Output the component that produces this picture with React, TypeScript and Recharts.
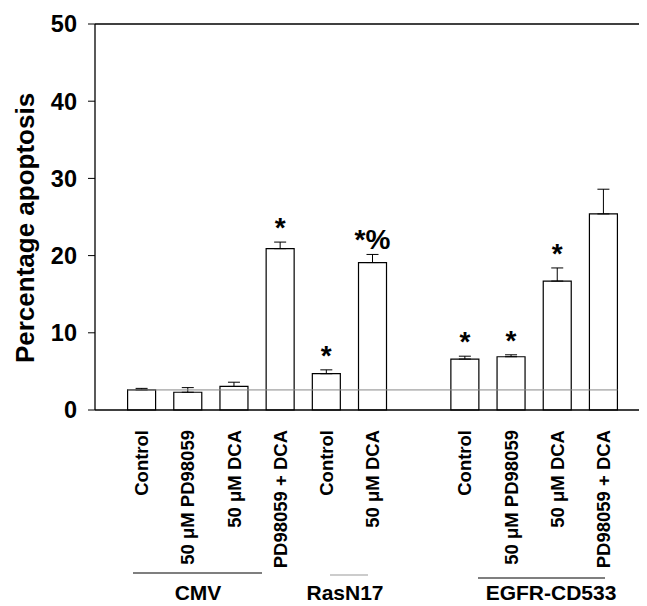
import React from 'react';
import { BarChart, Bar, XAxis, YAxis, ErrorBar, LabelList, ReferenceLine } from 'recharts';

// treatments, one slot left empty between the RasN17 and EGFR-CD533 groups
const labels = ['Control', '50 μM PD98059', '50 μM DCA', 'PD98059 + DCA', 'Control', '50 μM DCA', '', 'Control', '50 μM PD98059', '50 μM DCA', 'PD98059 + DCA'];
const values = [2.6, 2.3, 3.05, 20.9, 4.7, 19.1, null, 6.6, 6.9, 16.7, 25.4];
const errors = [0.2, 0.6, 0.55, 0.85, 0.5, 1.05, null, 0.37, 0.25, 1.7, 3.2];
const marks = ['', '', '', '*', '*', '*%', '', '*', '*', '*', ''];
const yTicks = [0, 10, 20, 30, 40, 50];
const controlLevel = 2.6;
const groupNames = ['CMV', 'RasN17', 'EGFR-CD533'];

const FONT = '"Liberation Sans", Arial, sans-serif';
const BAR = 28;
const W = 639;
const H = 598;

// group underline + label placement (px inside the chart box)
const groupLayout = [
  { x1: 125, x2: 254, ly: 565, cx: 190, stroke: '#000' },
  { x1: 322, x2: 360, ly: 567, cx: 337, stroke: '#999' },
  { x1: 470, x2: 597, ly: 570, cx: 543, stroke: '#000' },
];

const data = labels.map((label, i) => ({
  id: `c${i}`,
  label,
  value: values[i],
  err: errors[i] == null ? null : [0, errors[i]],
  mark: marks[i],
}));

const XTick = (props: any) => {
  const { x, y, payload } = props;
  const row = data.find((d) => d.id === payload.value);
  if (!row || !row.label) return null;
  return (
    <text
      x={x}
      y={y}
      transform={`rotate(-90 ${x} ${y})`}
      textAnchor="end"
      dominantBaseline="central"
      fontFamily={FONT}
      fontWeight="bold"
      fontSize={18.5}
      fill="#000"
    >
      {row.label}
    </text>
  );
};

const renderMark = (props: any) => {
  const vb = props.viewBox ?? props;
  const { x, y, width, height } = vb;
  const row = data.find((d) => d.id === props.value);
  if (!row || !row.mark || row.value == null || row.err == null) return null;
  const errTop = y - (row.err[1] * height) / row.value;
  return (
    <text
      x={x + width / 2}
      y={errTop - 5}
      textAnchor="middle"
      fontFamily={FONT}
      fontWeight="bold"
      fontSize={28}
      fill="#000"
    >
      {row.mark}
    </text>
  );
};

const YLabel = (props: any) => {
  const vb = props.viewBox;
  const cx = vb.x + 17;
  const cy = vb.y + vb.height / 2 + 11;
  return (
    <text
      x={cx}
      y={cy}
      transform={`rotate(-90 ${cx} ${cy})`}
      textAnchor="middle"
      dominantBaseline="central"
      fontFamily={FONT}
      fontWeight="bold"
      fontSize={26}
      fill="#000"
    >
      Percentage apoptosis
    </text>
  );
};

export default function App() {
  return (
    <div style={{ position: 'relative', width: W, height: H, background: '#fff' }}>
      <BarChart width={W} height={H} data={data} margin={{ top: 16, right: 2, bottom: 0, left: 0 }} barSize={BAR}>
        <XAxis
          dataKey="id"
          interval={0}
          height={196}
          padding={{ left: 23.6, right: 18.4 }}
          tickLine={false}
          tickSize={0}
          tickMargin={20}
          axisLine={{ stroke: '#000', strokeWidth: 1.3 }}
          tick={<XTick />}
        />
        <YAxis
          width={87}
          domain={[0, 50]}
          ticks={yTicks}
          interval={0}
          tickSize={7}
          tickMargin={11}
          axisLine={{ stroke: '#000', strokeWidth: 1.3 }}
          tickLine={{ stroke: '#000' }}
          tick={{ fontFamily: FONT, fontWeight: 'bold', fontSize: 23.5, fill: '#000' }}
          label={{ content: (p: any) => <YLabel {...p} /> }}
        />
        <ReferenceLine y={50} stroke="#000" strokeWidth={1.3} />
        <Bar dataKey="value" fill="#fff" stroke="#000" strokeWidth={1.2} isAnimationActive={false}>
          <ErrorBar dataKey="err" width={6} stroke="#000" strokeWidth={1} direction="y" />
          <LabelList dataKey="id" content={renderMark} />
        </Bar>
        <ReferenceLine
          segment={[
            { x: data[0].id, y: controlLevel },
            { x: data[data.length - 1].id, y: controlLevel },
          ]}
          stroke="#888"
          strokeWidth={1}
          shape={(p: any) => (
            <line x1={p.x1 - BAR / 2} y1={p.y1} x2={p.x2 + BAR / 2} y2={p.y2} stroke="#888" strokeWidth={1} />
          )}
        />
      </BarChart>
      <svg width={W} height={H} style={{ position: 'absolute', left: 0, top: 0, pointerEvents: 'none' }}>
        {groupNames.map((name, i) => {
          const g = groupLayout[i];
          return (
            <g key={name}>
              <line x1={g.x1} x2={g.x2} y1={g.ly} y2={g.ly} stroke={g.stroke} strokeWidth={1.2} />
              <text x={g.cx} y={592} textAnchor="middle" fontFamily={FONT} fontWeight="bold" fontSize={21} fill="#000">
                {name}
              </text>
            </g>
          );
        })}
      </svg>
    </div>
  );
}
